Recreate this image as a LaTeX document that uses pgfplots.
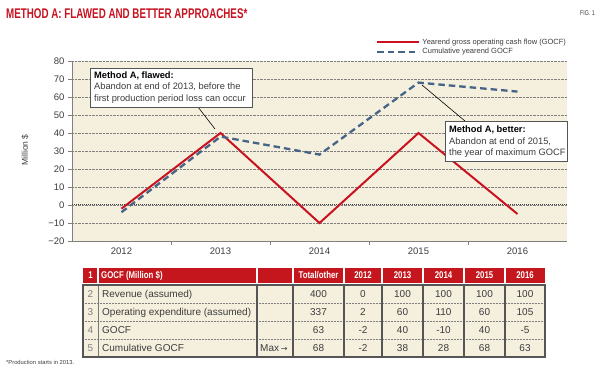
\documentclass[border=0pt]{standalone}
\usepackage{pgfplots}
\pgfplotsset{compat=1.18}
\usepackage{fontspec}
\setmainfont{Liberation Sans}
\newfontfamily\titlefont[FakeStretch=0.70]{Liberation Sans}
\newfontfamily\condfont[FakeStretch=0.8]{Liberation Sans}
\newfontfamily\smallcond[FakeStretch=0.75]{Liberation Sans}
\newfontfamily\dejavu{DejaVu Sans}
\definecolor{ogjred}{RGB}{200,18,32}
\definecolor{hdrred}{RGB}{196,22,28}
\definecolor{cumblue}{RGB}{70,100,135}
\definecolor{beige}{RGB}{245,239,222}
\definecolor{txtgray}{RGB}{60,60,60}
\definecolor{bordergray}{RGB}{85,85,85}

\begin{document}
\begin{tikzpicture}
\useasboundingbox (0,0) rectangle (600pt,369pt);
% title
\node[anchor=base west, inner sep=0, text=ogjred, font=\titlefont\bfseries\fontsize{14}{16}\selectfont] at (6pt,350.5pt) {METHOD A: FLAWED AND BETTER APPROACHES*};
\node[anchor=base east, inner sep=0, text=txtgray, font=\smallcond\fontsize{7}{8}\selectfont] at (595pt,353.5pt) {FIG. 1};
% y label
\node[rotate=90, text=txtgray, font=\fontsize{8.5}{10}\selectfont] at (25pt,219pt) {Million \$};

\begin{axis}[
  at={(72pt,128pt)}, anchor=south west,
  scale only axis, width=495pt, height=180pt,
  xmin=-0.5, xmax=4.5, ymin=-20, ymax=80,
  axis x line*=bottom, axis y line*=left,
  axis line style={draw=gray, line width=0.8pt, -},
  axis background/.style={fill=beige},
  ytick={-20,-10,...,80},
  yticklabels={−20,−10,0,10,20,30,40,50,60,70,80},
  ymajorgrids, grid style={densely dotted, gray, line width=0.5pt},
  xtick={0.5,1.5,2.5,3.5}, xticklabels={},
  extra x ticks={0,1,2,3,4}, extra x tick labels={2012,2013,2014,2015,2016},
  extra x tick style={major tick length=0pt, grid=none},
  tick align=outside, major tick length=4pt,
  tick style={gray, line width=0.6pt},
  ticklabel style={font=\fontsize{9.5}{10}\selectfont, text=txtgray},
  xticklabel style={yshift=-3.5pt},
  legend style={at={(0.614,1.135)}, anchor=north west, draw=none, fill=none,
    font=\fontsize{7.5}{8}\selectfont, text=txtgray, row sep=-1.5pt, inner sep=0pt},
  legend cell align=left,
  legend image code/.code={\draw[#1] (0pt,0pt) -- (42pt,0pt);},
]
\draw[densely dotted, line width=1pt, black!75] (axis cs:-0.5,0) -- (axis cs:4.5,0);
\addplot[ogjred, line width=2pt] coordinates {(0,-2) (1,40) (2,-10) (3,40) (4,-5)};
\addlegendentry{Yearend gross operating cash flow (GOCF)}
\addplot[cumblue, line width=2.3pt, dash pattern=on 6.5pt off 4pt] coordinates {(0,-4) (1,38) (2,28) (3,68) (4,63)};
\addlegendentry{Cumulative yearend GOCF}
\end{axis}

% annotations
\draw[black, line width=0.6pt] (198pt,262pt) -- (215pt,240pt);
\draw[black, line width=0.6pt] (422pt,284pt) -- (465pt,248pt);
\draw[draw=bordergray, fill=white, line width=0.9pt] (90pt,262pt) rectangle (252pt,301pt);
\draw[draw=bordergray, fill=white, line width=0.9pt] (445pt,208pt) rectangle (567pt,248pt);
\begin{scope}[every node/.style={anchor=base west, inner sep=0, text=txtgray, font=\fontsize{9.3}{10}\selectfont}]
\node[text=black, font=\bfseries\fontsize{9.3}{10}\selectfont] at (94pt,290.5pt) {Method A, flawed:};
\node at (94pt,279pt) {Abandon at end of 2013, before the};
\node at (94pt,267.3pt) {first production period loss can occur};
\node[text=black, font=\bfseries\fontsize{9.3}{10}\selectfont] at (449pt,236.3pt) {Method A, better:};
\node at (449pt,224.7pt) {Abandon at end of 2015,};
\node at (449pt,213pt) {the year of maximum GOCF};
\end{scope}

% table
\fill[hdrred] (83pt,86pt) rectangle (545pt,101pt);
\foreach \x in {98,257,293,344,382,423,464,505} {
  \draw[white, line width=1.2pt] (\x pt,85pt) -- (\x pt,102pt);
}
\begin{scope}[every node/.style={anchor=base, inner sep=0, text=white, font=\condfont\bfseries\fontsize{9.8}{10}\selectfont}]
\node at (90.5pt,90pt) {1};
\node[anchor=base west] at (101pt,90pt) {GOCF (Million \$)};
\node at (318.5pt,90pt) {Total/other};
\node at (363pt,90pt) {2012};
\node at (402.5pt,90pt) {2013};
\node at (443.5pt,90pt) {2014};
\node at (484.5pt,90pt) {2015};
\node at (525pt,90pt) {2016};
\end{scope}
\fill[beige] (83pt,12pt) rectangle (545pt,84pt);
\foreach \y in {66,48,30} {
  \draw[densely dotted, gray, line width=0.5pt] (83pt,\y pt) -- (545pt,\y pt);
}
\draw[bordergray!80, line width=0.8pt] (98pt,12pt) -- (98pt,84pt);
\foreach \x in {257,293,344,382,423,464,505} {
  \draw[bordergray, line width=1.2pt] (\x pt,12pt) -- (\x pt,84pt);
}
\draw[bordergray, line width=1.2pt] (83pt,12pt) rectangle (545pt,84pt);
\begin{scope}[every node/.style={anchor=base, inner sep=0, text=txtgray, font=\fontsize{10}{11}\selectfont}]
% row 2
\node[text=gray] at (90.5pt,71.5pt) {2};
\node[anchor=base west] at (102pt,71.5pt) {Revenue (assumed)};
\node at (318.5pt,71.5pt) {400};
\node at (363pt,71.5pt) {0};
\node at (402.5pt,71.5pt) {100};
\node at (443.5pt,71.5pt) {100};
\node at (484.5pt,71.5pt) {100};
\node at (525pt,71.5pt) {100};
% row 3
\node[text=gray] at (90.5pt,53.5pt) {3};
\node[anchor=base west] at (102pt,53.5pt) {Operating expenditure (assumed)};
\node at (318.5pt,53.5pt) {337};
\node at (363pt,53.5pt) {2};
\node at (402.5pt,53.5pt) {60};
\node at (443.5pt,53.5pt) {110};
\node at (484.5pt,53.5pt) {60};
\node at (525pt,53.5pt) {105};
% row 4
\node[text=gray] at (90.5pt,35.5pt) {4};
\node[anchor=base west] at (102pt,35.5pt) {GOCF};
\node at (318.5pt,35.5pt) {63};
\node at (363pt,35.5pt) {-2};
\node at (402.5pt,35.5pt) {40};
\node at (443.5pt,35.5pt) {-10};
\node at (484.5pt,35.5pt) {40};
\node at (525pt,35.5pt) {-5};
% row 5
\node[text=gray] at (90.5pt,17.5pt) {5};
\node[anchor=base west] at (102pt,17.5pt) {Cumulative GOCF};
\node[anchor=base west] at (260pt,17.5pt) {Max\,{\dejavu\fontsize{8}{9}\selectfont →}};
\node at (318.5pt,17.5pt) {68};
\node at (363pt,17.5pt) {-2};
\node at (402.5pt,17.5pt) {38};
\node at (443.5pt,17.5pt) {28};
\node at (484.5pt,17.5pt) {68};
\node at (525pt,17.5pt) {63};
\end{scope}
% footnote
\node[anchor=base west, inner sep=0, text=txtgray, font=\fontsize{5.8}{6}\selectfont] at (6pt,4.5pt) {*Production starts in 2013.};
\end{tikzpicture}
\end{document}
